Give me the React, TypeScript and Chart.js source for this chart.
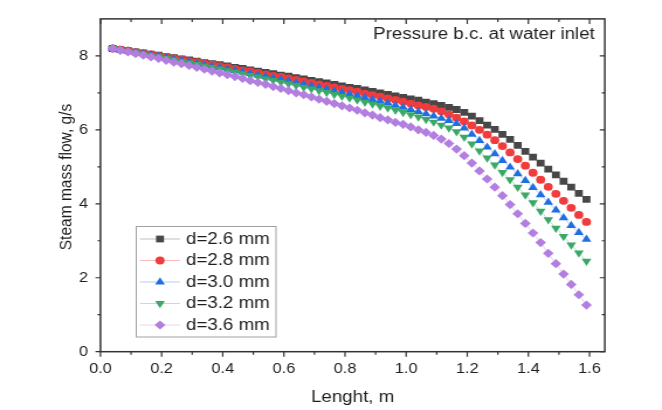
import React, { useEffect, useRef } from 'react';
import { Chart, registerables } from 'chart.js';
import { drawPoint } from 'chart.js/helpers';

Chart.register(...registerables);

// ---------------- data ----------------
const LENGTH_M = [
  0.04, 0.065, 0.09, 0.115, 0.14, 0.165, 0.19, 0.215, 0.24, 0.265,
  0.29, 0.315, 0.34, 0.365, 0.39, 0.415, 0.44, 0.465, 0.49, 0.515,
  0.54, 0.565, 0.59, 0.615, 0.64, 0.665, 0.69, 0.715, 0.74, 0.765,
  0.79, 0.815, 0.84, 0.865, 0.89, 0.915, 0.94, 0.965, 0.99, 1.015,
  1.04, 1.065, 1.09, 1.115, 1.14, 1.165, 1.19, 1.215, 1.24, 1.265,
  1.29, 1.315, 1.34, 1.365, 1.39, 1.415, 1.44, 1.465, 1.49, 1.515,
  1.54, 1.565, 1.59,
];

const FLOW_D26 = [
  8.20, 8.17, 8.14, 8.11, 8.08, 8.05, 8.02, 7.98, 7.95, 7.92,
  7.89, 7.86, 7.82, 7.79, 7.76, 7.73, 7.69, 7.66, 7.62, 7.59,
  7.55, 7.52, 7.48, 7.45, 7.41, 7.38, 7.34, 7.30, 7.27, 7.23,
  7.19, 7.15, 7.12, 7.08, 7.04, 7.00, 6.96, 6.92, 6.88, 6.84,
  6.80, 6.75, 6.71, 6.66, 6.61, 6.55, 6.47, 6.37, 6.25, 6.13,
  6.01, 5.88, 5.74, 5.58, 5.42, 5.26, 5.10, 4.94, 4.78, 4.61,
  4.45, 4.28, 4.12,
];

const FLOW_D28 = [
  8.20, 8.17, 8.14, 8.10, 8.07, 8.04, 8.00, 7.97, 7.93, 7.90,
  7.86, 7.83, 7.79, 7.76, 7.72, 7.69, 7.65, 7.61, 7.58, 7.54,
  7.50, 7.46, 7.43, 7.39, 7.35, 7.31, 7.27, 7.23, 7.19, 7.15,
  7.11, 7.07, 7.03, 6.98, 6.94, 6.90, 6.85, 6.81, 6.76, 6.71,
  6.66, 6.62, 6.57, 6.50, 6.42, 6.33, 6.23, 6.12, 6.00, 5.87,
  5.72, 5.56, 5.39, 5.21, 5.03, 4.84, 4.65, 4.46, 4.27, 4.08,
  3.89, 3.70, 3.51,
];

const FLOW_D30 = [
  8.20, 8.16, 8.13, 8.09, 8.06, 8.02, 7.99, 7.95, 7.91, 7.88,
  7.84, 7.80, 7.76, 7.72, 7.68, 7.64, 7.60, 7.56, 7.52, 7.48,
  7.44, 7.40, 7.36, 7.32, 7.27, 7.23, 7.19, 7.14, 7.10, 7.05,
  7.01, 6.96, 6.92, 6.87, 6.82, 6.77, 6.72, 6.66, 6.61, 6.55,
  6.49, 6.43, 6.37, 6.31, 6.25, 6.17, 6.05, 5.88, 5.71, 5.53,
  5.35, 5.17, 4.99, 4.81, 4.63, 4.44, 4.24, 4.04, 3.83, 3.62,
  3.41, 3.22, 3.04,
];

const FLOW_D32 = [
  8.20, 8.16, 8.12, 8.09, 8.05, 8.01, 7.97, 7.93, 7.89, 7.85,
  7.81, 7.77, 7.73, 7.69, 7.65, 7.60, 7.56, 7.52, 7.47, 7.43,
  7.38, 7.34, 7.29, 7.25, 7.20, 7.15, 7.11, 7.06, 7.01, 6.96,
  6.91, 6.86, 6.81, 6.75, 6.70, 6.64, 6.59, 6.53, 6.47, 6.41,
  6.35, 6.28, 6.21, 6.13, 6.05, 5.95, 5.80, 5.62, 5.43, 5.24,
  5.05, 4.85, 4.65, 4.45, 4.24, 4.03, 3.80, 3.57, 3.34, 3.12,
  2.89, 2.67, 2.45,
];

const FLOW_D36 = [
  8.20, 8.15, 8.11, 8.06, 8.02, 7.97, 7.93, 7.88, 7.83, 7.79,
  7.74, 7.69, 7.64, 7.59, 7.54, 7.49, 7.44, 7.39, 7.33, 7.28,
  7.23, 7.17, 7.12, 7.06, 7.00, 6.95, 6.89, 6.83, 6.77, 6.71,
  6.65, 6.59, 6.53, 6.46, 6.40, 6.33, 6.27, 6.20, 6.15, 6.08,
  6.00, 5.93, 5.85, 5.75, 5.63, 5.48, 5.30, 5.10, 4.89, 4.67,
  4.45, 4.22, 3.98, 3.73, 3.47, 3.21, 2.95, 2.66, 2.38, 2.10,
  1.82, 1.54, 1.26,
];

const SERIES_LABELS = ['d=2.6 mm', 'd=2.8 mm', 'd=3.0 mm', 'd=3.2 mm', 'd=3.6 mm'];
const SERIES_VALUES = [FLOW_D26, FLOW_D28, FLOW_D30, FLOW_D32, FLOW_D36];

const X_MAJOR_TICKS = [0, 0.2, 0.4, 0.6, 0.8, 1.0, 1.2, 1.4, 1.6];
const X_MINOR_TICKS = [0.1, 0.3, 0.5, 0.7, 0.9, 1.1, 1.3, 1.5];
const Y_MAJOR_TICKS = [0, 2, 4, 6, 8];
const Y_MINOR_TICKS = [1, 3, 5, 7];

const X_TITLE = 'Lenght, m';
const Y_TITLE = 'Steam mass flow, g/s';
const NOTE = 'Pressure b.c. at water inlet';

// ---------------- styling ----------------
const OUT_W = 662;
const OUT_H = 410;
const CW = 566; // drawing width (stretched horizontally to 662)
const K = OUT_W / CW;
const FONT = "'Liberation Sans', Arial, Helvetica, sans-serif";

const SERIES_STYLE = [
  { color: '#474747', line: 'rgba(71,71,71,0.35)', pointStyle: 'rect', radius: 4.8, rotation: 0 },
  { color: '#f03c3c', line: 'rgba(240,60,60,0.35)', pointStyle: 'circle', radius: 3.9, rotation: 0 },
  { color: '#1f6fe0', line: 'rgba(31,111,224,0.35)', pointStyle: 'triangle', radius: 4.8, rotation: 0 },
  { color: '#3aa866', line: 'rgba(58,168,102,0.35)', pointStyle: 'triangle', radius: 4.8, rotation: 180 },
  { color: '#b27ee0', line: 'rgba(178,126,224,0.35)', pointStyle: 'rectRot', radius: 4.6, rotation: 0 },
];

const decorPlugin = {
  id: 'decor',
  afterDraw(chart: any) {
    const { ctx, chartArea: a, scales } = chart;
    const xs = scales.x;
    const ys = scales.y;
    ctx.save();

    // frame
    ctx.strokeStyle = '#333333';
    ctx.lineWidth = 1.5;
    ctx.strokeRect(a.left, a.top, a.right - a.left, a.bottom - a.top);

    // ticks
    const majV = 5, minV = 3; // vertical lengths
    const majH = 5 / K, minH = 3 / K; // horizontal lengths (compensate stretch)
    ctx.lineWidth = 1.2;
    ctx.beginPath();
    const xt = (vals: number[], len: number) => {
      for (const v of vals) {
        const px = xs.getPixelForValue(v);
        ctx.moveTo(px, a.bottom);
        ctx.lineTo(px, a.bottom + len);
        ctx.moveTo(px, a.top);
        ctx.lineTo(px, a.top + len);
      }
    };
    const yt = (vals: number[], len: number) => {
      for (const v of vals) {
        const py = ys.getPixelForValue(v);
        ctx.moveTo(a.left, py);
        ctx.lineTo(a.left - len, py);
        ctx.moveTo(a.right, py);
        ctx.lineTo(a.right - len, py);
      }
    };
    xt(X_MAJOR_TICKS, majV);
    xt(X_MINOR_TICKS, minV);
    yt(Y_MAJOR_TICKS, majH);
    yt(Y_MINOR_TICKS, minH);
    ctx.stroke();

    // y title
    ctx.save();
    ctx.translate(56.4, 177);
    ctx.rotate(-Math.PI / 2);
    ctx.fillStyle = '#1e1e1e';
    ctx.font = `15.5px ${FONT}`;
    ctx.textAlign = 'center';
    ctx.textBaseline = 'middle';
    ctx.fillText(Y_TITLE, 0, 0);
    ctx.restore();

    // note
    ctx.fillStyle = '#1e1e1e';
    ctx.font = `16px ${FONT}`;
    ctx.textAlign = 'right';
    ctx.textBaseline = 'alphabetic';
    ctx.fillText(NOTE, 508.5, 38.5);

    // legend
    const lx0 = 116.5, lx1 = 236, ly0 = 226.5, ly1 = 337;
    ctx.fillStyle = '#ffffff';
    ctx.fillRect(lx0, ly0, lx1 - lx0, ly1 - ly0);
    ctx.strokeStyle = '#a0a0a0';
    ctx.lineWidth = 1;
    ctx.strokeRect(lx0, ly0, lx1 - lx0, ly1 - ly0);
    chart.data.datasets.forEach((ds: any, i: number) => {
      const st = SERIES_STYLE[i];
      const y = 239 + i * 21.5;
      ctx.strokeStyle = st.line;
      ctx.lineWidth = 1;
      ctx.beginPath();
      ctx.moveTo(119.7, y);
      ctx.lineTo(153.8, y);
      ctx.stroke();
      ctx.fillStyle = st.color;
      drawPoint(ctx, { pointStyle: st.pointStyle, rotation: st.rotation, radius: st.radius, borderWidth: 0 } as any, 136.8, y);
      ctx.fillStyle = '#1e1e1e';
      ctx.font = `16px ${FONT}`;
      ctx.textAlign = 'left';
      ctx.textBaseline = 'middle';
      ctx.fillText(ds.label, 159, y + 0.5);
    });

    ctx.restore();
  },
};

export default function App() {
  const canvasRef = useRef<HTMLCanvasElement | null>(null);

  useEffect(() => {
    const canvas = canvasRef.current;
    if (!canvas) return;
    const datasets = SERIES_VALUES.map((vals, i) => {
      const st = SERIES_STYLE[i];
      return {
        label: SERIES_LABELS[i],
        data: LENGTH_M.map((x, j) => ({ x, y: vals[j] })),
        borderColor: st.line,
        backgroundColor: st.color,
        borderWidth: 1,
        pointStyle: st.pointStyle as any,
        pointRotation: st.rotation,
        pointRadius: st.radius,
        pointBackgroundColor: st.color,
        pointBorderColor: st.color,
        pointBorderWidth: 0,
        tension: 0,
        order: SERIES_VALUES.length - 1 - i,
      };
    });

    const chart = new Chart(canvas, {
      type: 'line',
      data: { datasets },
      options: {
        responsive: false,
        animation: false,
        devicePixelRatio: 1,
        layout: { padding: { left: 0, right: CW - 517.1, top: 16.5, bottom: 0 } },
        plugins: { legend: { display: false }, tooltip: { enabled: false } },
        scales: {
          x: {
            type: 'linear',
            min: 0,
            max: 1.65,
            grid: { display: false, drawTicks: false },
            border: { display: false },
            ticks: {
              stepSize: 0.2,
              includeBounds: false,
              padding: 9,
              color: '#1e1e1e',
              font: { family: FONT, size: 14 },
              maxRotation: 0,
              callback: (v: any) => Number(v).toFixed(1),
            },
            title: {
              display: true,
              text: X_TITLE,
              color: '#1e1e1e',
              font: { family: FONT, size: 16 },
              padding: { top: 0, bottom: 3 },
            },
            afterFit: (s: any) => { s.height = OUT_H - 351.7; },
          },
          y: {
            type: 'linear',
            min: 0,
            max: 9,
            grid: { display: false, drawTicks: false },
            border: { display: false },
            ticks: {
              stepSize: 2,
              includeBounds: false,
              padding: 10.5,
              color: '#1e1e1e',
              font: { family: FONT, size: 14 },
              callback: (v: any) => String(v),
            },
            afterFit: (s: any) => { s.width = 85.9; },
          },
        },
      },
      plugins: [decorPlugin],
    });
    return () => chart.destroy();
  }, []);

  return (
    <div style={{ position: 'fixed', left: 0, top: 0, width: OUT_W, height: OUT_H, background: '#ffffff', overflow: 'hidden' }}>
      <canvas
        ref={canvasRef}
        width={CW}
        height={OUT_H}
        style={{
          position: 'absolute',
          left: 0,
          top: 0,
          width: `${CW}px`,
          height: `${OUT_H}px`,
          transform: `scaleX(${K})`,
          transformOrigin: '0 0',
        }}
      />
    </div>
  );
}
